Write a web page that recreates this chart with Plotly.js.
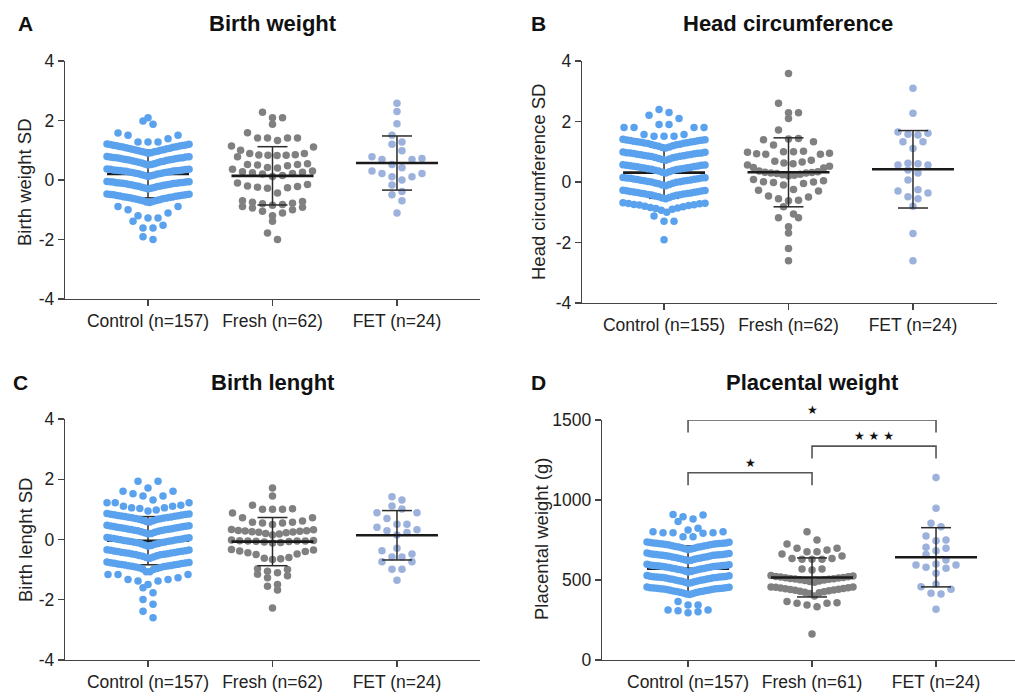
<!DOCTYPE html>
<html>
<head>
<meta charset="utf-8">
<script src="https://cdn.plot.ly/plotly-3.0.1.min.js"></script>
<style>html,body{margin:0;padding:0;background:#fff;}#chart{width:1015px;height:698px;}</style>
</head>
<body>
<div id="chart"></div>
<script>
// ---------------- DATA ----------------
const groupNames = ['Control', 'Fresh', 'FET'];
const bwLabels = ['Control (n=157)', 'Fresh (n=62)', 'FET (n=24)'];
const hcLabels = ['Control (n=155)', 'Fresh (n=62)', 'FET (n=24)'];
const blLabels = ['Control (n=157)', 'Fresh (n=62)', 'FET (n=24)'];
const pwLabels = ['Control (n=157)', 'Fresh (n=61)', 'FET (n=24)'];
const sdTickVals = [-4, -2, 0, 2, 4];
const sdTickText = ['-4', '-2', '0', '2', '4'];
const pwTickVals = [0, 500, 1000, 1500];
const pwTickText = ['0', '500', '1000', '1500'];

// A: Birth weight SD
const bwControl = [2.09,1.98,1.87,
 1.58,1.5,1.5,1.39,1.28,1.28,1.28,
 0.90,0.92,0.93,0.95,0.96,0.97,0.98,1.0,1.01,1.02,1.03,1.05,1.06,1.07,1.08,1.1,1.11,1.12,1.13,1.14,1.15,1.16,1.17,1.18,1.19,1.2,1.21,
 0.50,0.52,0.54,0.55,0.57,0.58,0.60,0.61,0.62,0.63,0.65,0.66,0.67,0.68,0.69,0.70,0.71,0.72,0.73,0.74,0.75,0.75,0.76,0.77,0.77,0.78,0.79,
 0.12,0.14,0.15,0.17,0.18,0.2,0.21,0.22,0.23,0.24,0.25,0.26,0.27,0.28,0.29,0.3,0.3,0.31,0.32,0.32,0.33,0.34,0.34,0.35,0.36,0.36,0.37,
 -0.30,-0.28,-0.27,-0.25,-0.24,-0.22,-0.21,-0.2,-0.19,-0.18,-0.17,-0.16,-0.15,-0.14,-0.13,-0.12,-0.11,-0.11,-0.1,-0.09,-0.09,-0.08,-0.07,-0.07,-0.06,-0.06,-0.05,
 -0.76,-0.74,-0.72,-0.7,-0.69,-0.67,-0.66,-0.65,-0.63,-0.62,-0.61,-0.6,-0.59,-0.58,-0.57,-0.56,-0.55,-0.54,-0.53,-0.52,-0.51,-0.5,-0.5,-0.49,-0.48,-0.47,
 -0.89,-0.89,-1.0,-1.11,-1.2,-1.28,-1.28,
 -1.39,-1.52,-1.61,-1.61,
 -1.91,-2.0];
const bwFresh = [2.28,2.09,2.09,1.87,1.59,1.41,1.41,1.41,1.41,1.33,
 1.14,1.11,1.0,0.89,0.89,0.85,0.84,0.83,0.83,0.82,
 0.78,0.55,0.52,0.52,0.5,0.48,0.42,0.4,
 0.36,0.3,0.28,0.26,0.24,0.22,0.2,0.15,0.12,
 -0.1,-0.15,-0.2,-0.22,-0.24,-0.26,-0.28,-0.44,
 -0.7,-0.72,-0.75,-0.78,-0.8,-0.82,-0.85,
 -0.89,-0.92,-0.94,-1.0,-1.05,-1.11,-1.2,
 -1.39,-1.78,-2.0];
const bwFET = [2.58,2.3,1.89,1.5,1.28,1.2,0.98,0.78,0.72,0.69,0.69,0.52,0.41,0.3,0.22,0.22,0.11,0.11,0.0,-0.17,-0.39,-0.5,-0.7,-1.11];
const bwMean = [0.2, 0.14, 0.57];
const bwSD = [0.8, 0.98, 0.91];

// B: Head circumference SD
const hcControl = [2.4,2.3,2.21,2.1,1.9,1.9,1.8,1.8,1.8,1.8,1.57,1.51,1.51,1.51,1.57,
 1.12,1.14,1.16,1.18,1.2,1.21,1.23,1.24,1.25,1.27,1.28,1.29,1.3,1.31,1.32,1.33,1.34,1.35,1.36,1.37,1.38,1.39,1.4,1.41,
 0.72,0.74,0.76,0.78,0.8,0.81,0.83,0.84,0.85,0.86,0.87,0.88,0.89,0.9,0.91,0.92,0.93,0.94,0.95,0.96,0.96,0.97,0.98,0.99,
 0.3,0.32,0.34,0.36,0.38,0.39,0.41,0.42,0.43,0.44,0.45,0.46,0.47,0.48,0.49,0.5,0.51,0.52,0.53,0.54,0.55,0.55,0.56,0.57,
 -0.12,-0.1,-0.08,-0.06,-0.04,-0.03,-0.01,0.0,0.01,0.02,0.03,0.04,0.05,0.06,0.07,0.08,0.09,0.1,0.11,0.12,0.13,0.13,0.14,0.15,
 -0.55,-0.53,-0.51,-0.49,-0.47,-0.46,-0.44,-0.43,-0.42,-0.41,-0.4,-0.39,-0.38,-0.37,-0.36,-0.35,-0.34,-0.33,-0.32,-0.31,-0.3,-0.29,-0.28,-0.27,
 -1.0,-0.93,-0.9,-0.88,-0.86,-0.84,-0.82,-0.8,-0.78,-0.76,-0.75,-0.74,-0.72,-0.71,-0.7,-0.69,
 -1.12,-1.3,-1.3,-1.91];
const hcFresh = [3.59,2.6,2.29,2.29,2.1,1.72,1.44,1.42,1.4,1.33,1.22,
 1.02,1.0,1.0,0.98,0.95,0.93,0.92,0.92,
 0.72,0.69,0.66,0.63,0.6,0.56,0.52,0.48,0.46,
 0.36,0.34,0.32,0.31,0.3,0.3,0.28,0.26,0.24,0.22,0.2,
 0.08,0.04,0.01,0.0,-0.02,-0.05,-0.1,
 -0.25,-0.27,-0.3,
 -0.46,-0.5,-0.55,-0.6,-0.62,
 -0.82,-1.06,-1.18,-1.18,-1.48,-1.69,-2.2,-2.6];
const hcFET = [3.1,2.27,1.65,1.61,1.58,1.55,1.33,1.33,1.11,0.62,0.6,0.56,0.56,0.4,0.3,0.07,-0.26,-0.3,-0.36,-0.49,-0.55,-0.8,-1.7,-2.6];
const hcMean = [0.31, 0.32, 0.42];
const hcSD = [0.85, 1.14, 1.28];

// C: Birth length SD
const blControl = [1.93,1.93,1.71,
 1.6,1.52,1.44,1.44,1.6,1.31,
 1.22,1.14,1.1,1.05,1.03,1.05,1.1,1.22,1.22,0.95,0.98,
 0.58,0.6,0.62,0.64,0.66,0.67,0.69,0.7,0.71,0.72,0.73,0.74,0.75,0.76,0.77,0.78,0.79,0.8,0.81,0.82,0.83,0.84,0.85,0.86,
 0.18,0.2,0.22,0.24,0.26,0.27,0.29,0.3,0.31,0.32,0.33,0.34,0.35,0.36,0.37,0.38,0.39,0.4,0.41,0.42,0.43,0.44,0.45,0.46,0.47,
 -0.22,-0.2,-0.18,-0.16,-0.14,-0.13,-0.11,-0.1,-0.09,-0.08,-0.07,-0.06,-0.05,-0.04,-0.03,-0.02,-0.01,0.0,0.01,0.02,0.03,0.04,0.05,0.06,0.07,
 -0.62,-0.6,-0.58,-0.56,-0.54,-0.53,-0.51,-0.5,-0.49,-0.48,-0.47,-0.46,-0.45,-0.44,-0.43,-0.42,-0.41,-0.4,-0.39,-0.38,-0.37,-0.36,-0.35,-0.34,
 -1.07,-1.07,-1.0,-0.98,-0.96,-0.94,-0.93,-0.91,-0.9,-0.89,-0.88,-0.87,-0.86,-0.85,-0.84,-0.83,-0.82,-0.81,-0.8,-0.79,-0.78,-0.77,-0.76,-0.75,
 -1.16,-1.16,-1.38,-1.33,-1.33,-1.38,-1.27,-1.16,-1.49,
 -1.6,-1.77,-1.99,-2.15,-2.38,-2.6];
const blFresh = [1.71,1.44,1.14,1.02,1.0,1.0,1.0,0.88,
 0.72,0.72,0.61,0.57,0.57,0.55,0.55,0.5,
 0.33,0.32,0.3,0.29,0.28,0.27,0.26,0.25,0.24,0.22,0.2,0.18,0.15,
 -0.02,-0.03,-0.04,-0.05,-0.05,-0.05,-0.06,-0.07,-0.08,-0.1,-0.12,
 -0.33,-0.35,-0.38,-0.4,-0.44,-0.48,-0.5,
 -0.6,-0.62,-0.64,-0.66,
 -0.97,-1.0,-1.05,-1.1,-1.15,-1.2,
 -1.27,-1.49,-1.55,-1.68,-2.27];
const blFET = [1.42,1.31,1.11,1.01,0.89,0.89,0.7,0.51,0.51,0.41,0.32,0.29,0.23,0.15,-0.29,-0.37,-0.48,-0.58,-0.58,-0.74,-0.74,-0.99,-0.99,-1.35];
const blMean = [-0.04, -0.07, 0.14];
const blSD = [0.8, 0.8, 0.82];

// D: Placental weight (g)
const pwControl = [906,896,910,881,
 865,823,812,
 792,802,796,796,796,802,771,771,
 690,693,696,699,702,704,706,708,710,712,714,716,718,720,722,724,725,726,727,728,729,730,731,732,734,736,738,
 620,623,626,629,632,634,636,638,640,642,644,646,648,650,652,654,655,656,657,658,659,660,661,662,664,666,668,
 550,553,556,559,562,564,566,568,570,572,574,576,578,580,582,584,585,586,587,588,589,590,591,592,594,596,598,
 480,483,486,489,492,494,496,498,500,502,504,506,508,510,512,514,515,516,517,518,519,520,521,522,524,526,528,
 410,413,416,419,422,424,426,428,430,432,434,436,438,440,442,444,445,446,447,448,449,450,451,452,454,456,
 344,344,365,
 312,308,296,302,312];
const pwFresh = [802,750,725,698,698,687,677,677,662,650,635,635,629,629,629,569,569,562,
 528,525,522,520,518,516,514,512,510,508,506,504,502,500,497,494,490,486,
 456,456,455,452,450,447,445,442,440,438,436,433,430,427,424,420,415,
 400,365,358,354,354,344,333,
 162];
const pwFET = [1141,948,854,833,775,750,746,704,698,683,660,625,600,594,594,579,573,542,475,458,442,417,413,317];
const pwMean = [570, 516, 642];
const pwSD = [143, 122, 185];

// significance comparisons in panel D: [from group, to group, bracket height (g), label]
const sigFrom = [0, 1, 0];
const sigTo = [1, 2, 2];
const sigLevel = [1170, 1337, 1500];
const sigLabel = ['★', '★ ★ ★', '★'];

// ---------------- STYLE / LAYOUT ----------------
const W = 1015, H = 698;
const FONT = 'Liberation Sans, Arial, Helvetica, sans-serif';
const colors = ['#5aa2ee', '#808080', '#9cb2dc'];
const px = x => x / W;
const py = y => 1 - y / H;

const panels = [
  {n: '', xd: [65, 480], yd: [61, 299], xr: [-0.667, 2.667], yr: [-4, 4], labels: bwLabels,
   groups: [bwControl, bwFresh, bwFET], mean: bwMean, sd: bwSD, bin: 0.42, off: -0.04,
   tv: sdTickVals, tt: sdTickText, title: 'Birth weight', tpos: [273, 23], letter: 'A', lpos: [25, 23],
   ytitle: 'Birth weight SD', ypos: [25, 182]},
  {n: '2', xd: [582, 997], yd: [61, 303], xr: [-0.659, 2.675], yr: [-4, 4], labels: hcLabels,
   groups: [hcControl, hcFresh, hcFET], mean: hcMean, sd: hcSD, bin: 0.42, off: 0.16,
   tv: sdTickVals, tt: sdTickText, title: 'Head circumference', tpos: [788, 23], letter: 'B', lpos: [538, 23],
   ytitle: 'Head circumference SD', ypos: [539, 182]},
  {n: '3', xd: [65, 480], yd: [419, 660], xr: [-0.667, 2.667], yr: [-4, 4], labels: blLabels,
   groups: [blControl, blFresh, blFET], mean: blMean, sd: blSD, bin: 0.4, off: 0.1,
   tv: sdTickVals, tt: sdTickText, title: 'Birth lenght', tpos: [273, 382], letter: 'C', lpos: [20, 382],
   ytitle: 'Birth lenght SD', ypos: [25, 540]},
  {n: '4', xd: [602, 1015], yd: [420, 660], xr: [-0.694, 2.637], yr: [0, 1500], labels: pwLabels,
   groups: [pwControl, pwFresh, pwFET], mean: pwMean, sd: pwSD, bin: 70, off: 40,
   tv: pwTickVals, tt: pwTickText, title: 'Placental weight', tpos: [812, 382], letter: 'D', lpos: [538, 382],
   ytitle: 'Placental weight (g)', ypos: [541, 539]}
];

// GraphPad-like scatter-dot arrangement: bin values into rows, spread each row around the category
function swarm(vals, center, bin, off, pxPerCat) {
  const rows = {};
  vals.forEach(v => {
    const k = Math.floor((v - off) / bin + 1e-7);
    (rows[k] = rows[k] || []).push(v);
  });
  const xs = [], ys = [];
  const sMax = 10, half = 41;
  Object.keys(rows).forEach(k => {
    const r = rows[k].slice().sort((a, b) => a - b);
    const n = r.length;
    const s = n > 1 ? Math.min(sMax, 2 * half / (n - 1)) : 0;
    const slots = [];
    for (let i = 0; i < n; i++) slots.push((i - (n - 1) / 2) * s);
    slots.sort((a, b) => (Math.abs(a) - Math.abs(b)) || (b - a));
    r.forEach((v, i) => { xs.push(center + slots[i] / pxPerCat); ys.push(v); });
  });
  return {xs, ys};
}

const traces = [];
const layout = {
  width: W, height: H, margin: {l: 0, r: 0, t: 0, b: 0},
  paper_bgcolor: '#fff', plot_bgcolor: 'rgba(0,0,0,0)', showlegend: false,
  font: {family: FONT, color: '#222'},
  annotations: [], shapes: []
};

panels.forEach(p => {
  const xa = 'x' + p.n, ya = 'y' + p.n;
  const pxPerCat = (p.xd[1] - p.xd[0]) / (p.xr[1] - p.xr[0]);
  const mh = 41 / pxPerCat, ch = 15 / pxPerCat;
  p.groups.forEach((g, gi) => {
    const m = p.mean[gi], up = m + p.sd[gi], lo = m - p.sd[gi];
    const errTrace = {type: 'scatter', mode: 'lines', xaxis: xa, yaxis: ya, hoverinfo: 'skip',
      x: [gi, gi, null, gi - ch, gi + ch, null, gi - ch, gi + ch],
      y: [lo, up, null, up, up, null, lo, lo],
      line: {color: '#2a2a2a', width: 1.5}};
    const meanTrace = {type: 'scatter', mode: 'lines', xaxis: xa, yaxis: ya, hoverinfo: 'skip',
      x: [gi - mh, gi + mh], y: [m, m], line: {color: '#1a1a1a', width: 2.6}};
    const s = swarm(g, gi, p.bin, p.off, pxPerCat);
    const dots = {type: 'scatter', mode: 'markers', x: s.xs, y: s.ys, xaxis: xa, yaxis: ya,
      name: groupNames[gi], hoverinfo: 'y',
      marker: {color: colors[gi], size: 7.5, line: {width: 0}}};
    if (gi === 0) { traces.push(errTrace, meanTrace, dots); }
    else { traces.push(dots, errTrace, meanTrace); }
  });

  const axCommon = {showline: true, linecolor: '#444', linewidth: 1.3, ticks: 'outside', ticklen: 6,
    tickcolor: '#444', tickwidth: 1.3, showgrid: false, zeroline: false, fixedrange: true,
    tickfont: {family: FONT, size: 17.5, color: '#222'}};
  layout['xaxis' + p.n] = Object.assign({}, axCommon, {
    domain: [px(p.xd[0]), px(p.xd[1])], range: p.xr, anchor: ya,
    tickmode: 'array', tickvals: [0, 1, 2], ticktext: p.labels});
  layout['yaxis' + p.n] = Object.assign({}, axCommon, {
    domain: [py(p.yd[1]), py(p.yd[0])], range: p.yr, anchor: xa,
    tickmode: 'array', tickvals: p.tv, ticktext: p.tt});

  layout.annotations.push({text: '<b>' + p.title + '</b>', x: px(p.tpos[0]), y: py(p.tpos[1]),
    xref: 'paper', yref: 'paper', xanchor: 'center', yanchor: 'middle', showarrow: false,
    font: {family: FONT, size: 22, color: '#111'}});
  layout.annotations.push({text: '<b>' + p.letter + '</b>', x: px(p.lpos[0]), y: py(p.lpos[1]),
    xref: 'paper', yref: 'paper', xanchor: 'center', yanchor: 'middle', showarrow: false,
    font: {family: FONT, size: 21, color: '#111'}});
  layout.annotations.push({text: p.ytitle, x: px(p.ypos[0]), y: py(p.ypos[1]), textangle: -90,
    xref: 'paper', yref: 'paper', xanchor: 'center', yanchor: 'middle', showarrow: false,
    font: {family: FONT, size: 18.5, color: '#222'}});
});

// significance brackets (panel D)
const drop = 78;
sigFrom.forEach((f, i) => {
  const t = sigTo[i], yv = sigLevel[i];
  layout.shapes.push({type: 'path', xref: 'x4', yref: 'y4',
    path: `M ${f} ${yv - drop} L ${f} ${yv} L ${t} ${yv} L ${t} ${yv - drop}`,
    line: {color: '#555', width: 1.6}});
  layout.annotations.push({text: sigLabel[i], x: (f + t) / 2, y: yv, xref: 'x4', yref: 'y4',
    xanchor: 'center', yanchor: 'bottom', yshift: 1, showarrow: false,
    font: {family: 'DejaVu Sans, sans-serif', size: 12, color: '#111'}});
});

Plotly.newPlot('chart', traces, layout, {staticPlot: true, displayModeBar: false});
</script>
</body>
</html>
